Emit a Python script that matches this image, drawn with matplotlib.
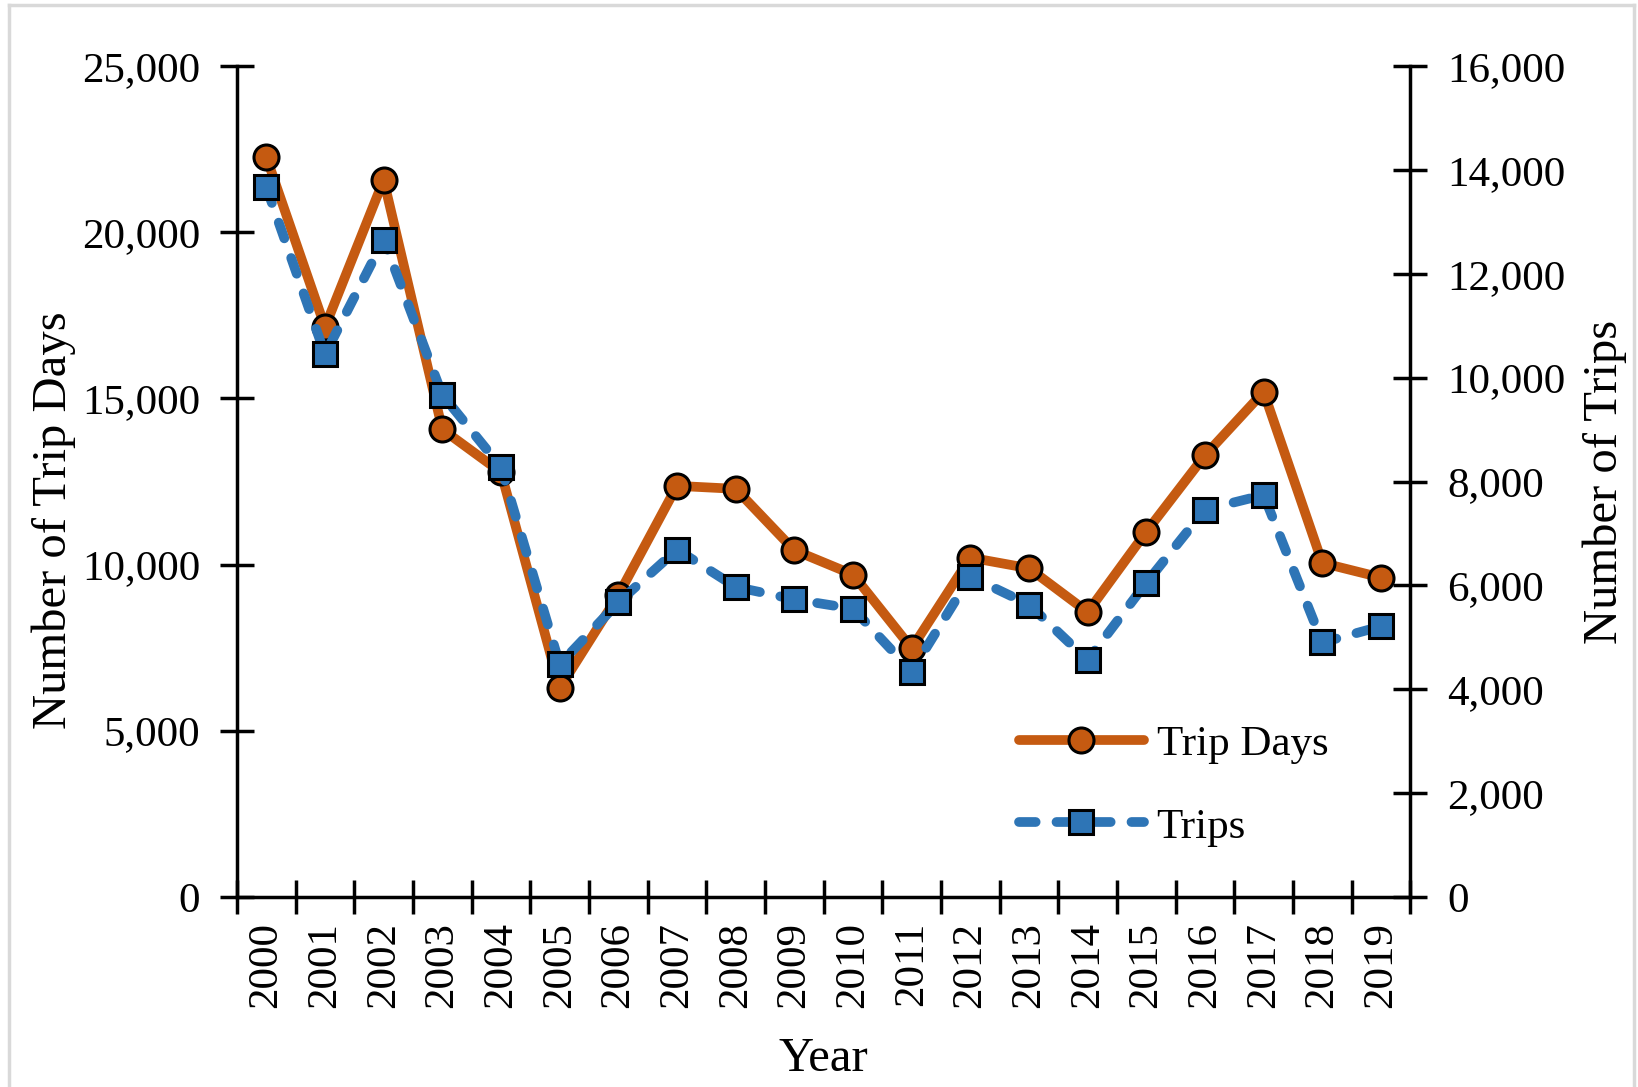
import matplotlib.pyplot as plt
import numpy as np
from matplotlib.lines import Line2D

years = [str(y) for y in range(2000, 2020)]
trip_days = [22270, 17150, 21580, 14070, 12780, 6280, 9080, 12370, 12280, 10430,
             9700, 7480, 10210, 9890, 8570, 10990, 13290, 15200, 10050, 9610]
trips = [13670, 10450, 12660, 9670, 8280, 4480, 5670, 6690, 5970, 5730,
         5550, 4340, 6170, 5630, 4560, 6050, 7460, 7740, 4900, 5210]

orange = "#C55A11"
blue = "#2E75B6"

plt.rcParams["font.family"] = ["Liberation Serif", "DejaVu Serif"]
plt.rcParams["lines.scale_dashes"] = False
fs = 31
lfs = 35

fig = plt.figure(figsize=(16.38, 10.87), dpi=100)
ax = fig.add_axes([0.1447, 0.175, 0.861 - 0.1447, 0.939 - 0.175])
ax2 = ax.twinx()

x = np.arange(len(years))
ax.plot(x, trip_days, color=orange, lw=7, solid_capstyle="round",
        marker="o", ms=18, mfc=orange, mec="black", mew=2.2, zorder=3)
ax2.plot(x, trips, color=blue, lw=7, dash_capstyle="round", dashes=(12, 15),
         marker="s", ms=17, mfc=blue, mec="black", mew=2.2, zorder=3)

ax.set_xlim(-0.5, len(years) - 0.5)
ax.set_ylim(0, 25000)
ax2.set_ylim(0, 16000)
ax.set_yticks(np.arange(0, 25001, 5000))
ax2.set_yticks(np.arange(0, 16001, 2000))
ax.set_yticklabels([f"{v:,}" for v in range(0, 25001, 5000)], fontsize=fs)
ax2.set_yticklabels([f"{v:,}" for v in range(0, 16001, 2000)], fontsize=fs)

ax.set_xticks(x)
ax.set_xticklabels(years, rotation=90, fontsize=fs)
ax.set_xticks(np.arange(-0.5, len(years), 1.0), minor=True)
ax.tick_params(axis="x", which="major", length=0, pad=18)
ax.tick_params(axis="x", which="minor", direction="inout", length=25, width=2.5)
ax.tick_params(axis="y", direction="inout", length=25, width=2.5, pad=14)
ax2.tick_params(axis="y", direction="inout", length=25, width=2.5, pad=14)

for a in (ax, ax2):
    a.spines["top"].set_visible(False)
    for s in ("left", "right", "bottom"):
        a.spines[s].set_linewidth(2.5)
ax.spines["right"].set_visible(False)
ax2.spines["left"].set_visible(False)
ax2.spines["bottom"].set_visible(False)

ax.set_xlabel("Year", fontsize=lfs, labelpad=21)
ax.set_ylabel("Number of Trip Days", fontsize=lfs, labelpad=4)
ax.yaxis.label.set_y(0.454)
ax2.set_ylabel("Number of Trips", fontsize=lfs, labelpad=12)

handles = [
    Line2D([], [], color=orange, lw=7, solid_capstyle="round", marker="o", ms=18,
           mfc=orange, mec="black", mew=2.2),
    Line2D([], [], color=blue, lw=7, dash_capstyle="round", dashes=(12, 15), marker="s",
           ms=17, mfc=blue, mec="black", mew=2.2),
]
fig.legend(handles, ["Trip Days", "Trips"], loc="center left",
           bbox_to_anchor=(0.622, 0.277), frameon=False, fontsize=fs,
           numpoints=1, handlelength=2.9, handletextpad=0.3, labelspacing=1.0,
           borderpad=0, borderaxespad=0)

# light grey frame around the picture
fig.add_artist(Line2D([9 / 1638, 9 / 1638], [0, 1 - 5 / 1087], color="#d9d9d9", lw=2.5,
                      transform=fig.transFigure))
fig.add_artist(Line2D([9 / 1638, 1634 / 1638], [1 - 5 / 1087, 1 - 5 / 1087],
                      color="#d9d9d9", lw=2.5, transform=fig.transFigure))
fig.add_artist(Line2D([1634 / 1638, 1634 / 1638], [0, 1 - 5 / 1087], color="#d9d9d9",
                      lw=2.5, transform=fig.transFigure))

fig.savefig("out.png", dpi=100)
